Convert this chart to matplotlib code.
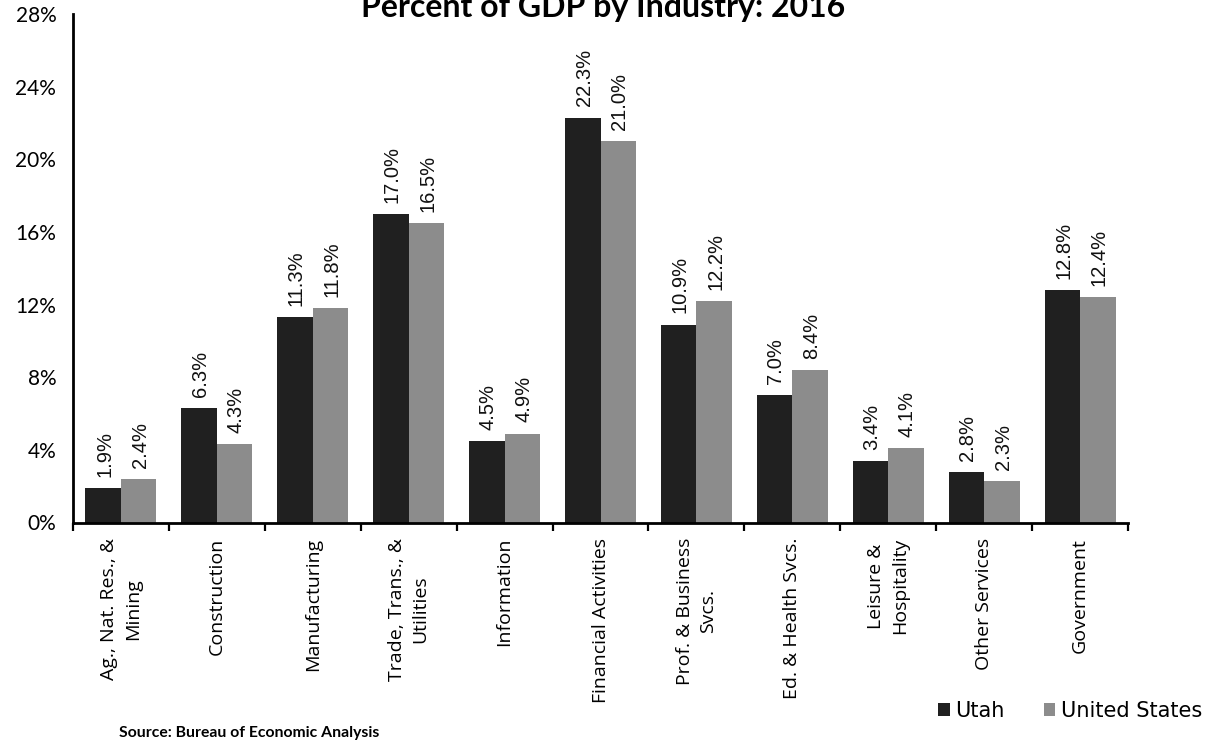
import matplotlib
matplotlib.use("Agg")
import matplotlib.pyplot as plt
import numpy as np

# Share of GDP by industry, 2016
categories = [
    "Ag., Nat. Res., &\nMining",
    "Construction",
    "Manufacturing",
    "Trade, Trans., &\nUtilities",
    "Information",
    "Financial Activities",
    "Prof. & Business\nSvcs.",
    "Ed. & Health Svcs.",
    "Leisure &\nHospitality",
    "Other Services",
    "Government",
]
utah = [1.9, 6.3, 11.3, 17.0, 4.5, 22.3, 10.9, 7.0, 3.4, 2.8, 12.8]
united_states = [2.4, 4.3, 11.8, 16.5, 4.9, 21.0, 12.2, 8.4, 4.1, 2.3, 12.4]
y_ticks = [0, 4, 8, 12, 16, 20, 24, 28]

UTAH_COLOR = "#202020"
US_COLOR = "#8c8c8c"

fig = plt.figure(figsize=(12.2, 7.43), dpi=100)
ax = fig.add_axes([73 / 1220, 1 - 522.5 / 743, (1128 - 73) / 1220, (522.5 - 14) / 743])

x = np.arange(len(categories))
w = 0.37
b1 = ax.bar(x - w / 2, utah, width=w, color=UTAH_COLOR, label="Utah", zorder=2)
b2 = ax.bar(x + w / 2, united_states, width=w, color=US_COLOR, label="United States", zorder=2)

# Value labels above each bar
for bars, vals in ((b1, utah), (b2, united_states)):
    for rect, v in zip(bars, vals):
        ax.annotate(f"{v:.1f}%",
                    xy=(rect.get_x() + rect.get_width() / 2, rect.get_height()),
                    xytext=(1, 8), textcoords="offset points",
                    rotation=90, ha="center", va="bottom",
                    fontsize=14.5, family="Liberation Sans", color="#111111")

ax.set_xlim(-0.5, len(categories) - 0.5)
ax.set_ylim(0, 28)
ax.set_yticks(y_ticks)
ax.set_yticklabels([f"{t}%" for t in y_ticks], family="Lato", fontsize=15)
ax.tick_params(axis="y", length=0, pad=12)

# Category ticks sit on the group boundaries; labels go in the middle
ax.set_xticks(np.arange(len(categories) + 1) - 0.5)
ax.set_xticklabels([])
ax.set_xticks(x, minor=True)
ax.set_xticklabels(categories, minor=True, rotation=90, ha="center", va="top",
                   family="Open Sans", fontsize=14, multialignment="center",
                   linespacing=1.4)
ax.tick_params(axis="x", which="major", length=6, width=1.6, direction="out")
ax.tick_params(axis="x", which="minor", length=0, pad=11)

for side in ("top", "right"):
    ax.spines[side].set_visible(False)
for side in ("left", "bottom"):
    ax.spines[side].set_linewidth(2)
    ax.spines[side].set_color("black")

fig.text(603 / 1220, 1 - 17 / 743, "Percent of GDP by Industry: 2016", ha="center",
         va="baseline", family="Lato", fontweight="bold", fontsize=23)

fig.text(119 / 1220, 1 - 733 / 743, "Source: Bureau of Economic Analysis",
         ha="left", va="center", family="Lato", fontweight="bold", fontsize=11.3)

leg = fig.legend(handles=[b1, b2], loc="center", bbox_to_anchor=(1070 / 1220, 1 - 711 / 743),
                 ncol=2, frameon=False, prop={"family": "DejaVu Sans", "size": 15},
                 handlelength=0.55, handleheight=0.55, handletextpad=0.25, columnspacing=1.9)

fig.savefig("out.png", dpi=100, facecolor="white")
